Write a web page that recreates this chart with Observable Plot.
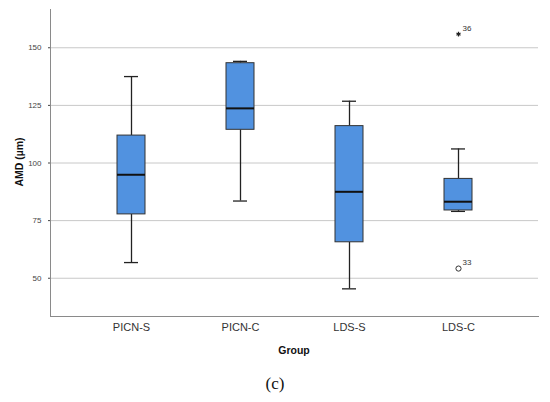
<!DOCTYPE html>
<html>
<head>
<meta charset="utf-8">
<script src="https://cdn.jsdelivr.net/npm/d3@7"></script>
<script src="https://cdn.jsdelivr.net/npm/@observablehq/plot@0.6"></script>
<style>
  body { margin: 0; background: #fff; }
  #chart { width: 550px; }
  #cap { width: 550px; text-align: center; font-family: "Liberation Serif", "DejaVu Serif", serif; font-size: 17px; color: #111; margin-top: 9px; }
</style>
</head>
<body>
<div id="chart"></div>
<div id="cap">(c)</div>
<script>
const groups = ["PICN-S", "PICN-C", "LDS-S", "LDS-C"];
const whiskerLow = [56.8, 83.5, 45.4, 79.0];
const q1 = [77.7, 114.4, 65.6, 79.4];
const median = [94.9, 123.7, 87.5, 83.2];
const q3 = [111.9, 143.3, 116.0, 93.1];
const whiskerHigh = [137.5, 144.1, 126.8, 106.1];
const outGroup = ["LDS-C", "LDS-C"];
const outValue = [54.2, 155.9];
const outLabel = ["33", "36"];
const outKind = ["circle", "star"];
const yTicks = [50, 75, 100, 125, 150];
const yDomain = [33.4, 166.6];

const boxes = groups.map((g, i) => ({
  group: g, lo: whiskerLow[i], q1: q1[i], med: median[i], q3: q3[i], hi: whiskerHigh[i]
}));
const outliers = outGroup.map((g, i) => ({group: g, value: outValue[i], label: outLabel[i], kind: outKind[i]}));

const fill = "#5192e0";
const ink = "#222";

const plot = Plot.plot({
  width: 550,
  height: 365,
  marginLeft: 50,
  marginRight: 12,
  marginTop: 9,
  marginBottom: 49,
  style: { fontFamily: "Arial, 'Liberation Sans', sans-serif", background: "#fff" },
  x: { type: "band", domain: groups, paddingInner: 0.745, paddingOuter: 0.597, label: null },
  y: { domain: yDomain, label: null },
  marks: [
    Plot.gridY(yTicks, { stroke: "#c8c8c8", strokeOpacity: 1, strokeWidth: 1 }),
    Plot.axisY(yTicks, { tickSize: 2, tickPadding: 7, fontSize: 8, color: "#444", label: null }),
    Plot.axisX({ tickSize: 0, tickPadding: 7, fontSize: 11, color: "#333", label: null }),
    Plot.frame({ anchor: "left", stroke: "#8a8a8a" }),
    Plot.frame({ anchor: "bottom", stroke: "#8a8a8a" }),
    Plot.ruleX(boxes, { x: "group", y1: "lo", y2: "q1", stroke: ink, strokeWidth: 1.3 }),
    Plot.ruleX(boxes, { x: "group", y1: "q3", y2: "hi", stroke: ink, strokeWidth: 1.3 }),
    Plot.tickY(boxes, { x: "group", y: "lo", stroke: ink, strokeWidth: 1.3, insetLeft: 7, insetRight: 7 }),
    Plot.tickY(boxes, { x: "group", y: "hi", stroke: ink, strokeWidth: 1.3, insetLeft: 7, insetRight: 7 }),
    Plot.barY(boxes, { x: "group", y1: "q1", y2: "q3", fill: fill, stroke: "#333", strokeWidth: 1 }),
    Plot.tickY(boxes, { x: "group", y: "med", stroke: "#111", strokeWidth: 2 }),
    Plot.dot(outliers.filter(d => d.kind === "circle"), { x: "group", y: "value", r: 2.6, stroke: "#333", fill: "#fff", strokeWidth: 1 }),
    Plot.dot(outliers.filter(d => d.kind === "star"), { x: "group", y: "value", r: 2.2, symbol: "asterisk", stroke: "#222", strokeWidth: 1.2 }),
    Plot.text(outliers, { x: "group", y: "value", text: "label", dx: 4, dy: -6, textAnchor: "start", fontSize: 8, fill: "#333" })
  ]
});

const svg = d3.select(plot);
svg.append("text")
  .attr("transform", "translate(20,162) rotate(-90)")
  .attr("text-anchor", "middle")
  .attr("dominant-baseline", "middle")
  .attr("font-size", 10.5)
  .attr("font-weight", "bold")
  .attr("fill", "#111")
  .text("AMD (µm)");
svg.append("text")
  .attr("x", 294)
  .attr("y", 351)
  .attr("text-anchor", "middle")
  .attr("dominant-baseline", "middle")
  .attr("font-size", 10.5)
  .attr("font-weight", "bold")
  .attr("fill", "#111")
  .text("Group");

document.getElementById("chart").appendChild(plot);
</script>
</body>
</html>
